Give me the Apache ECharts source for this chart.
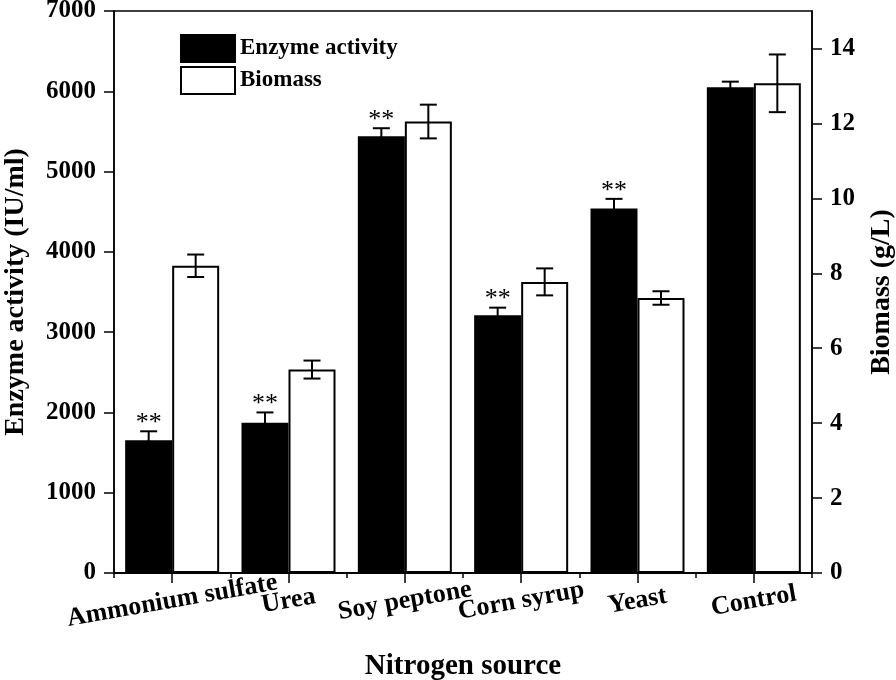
<!DOCTYPE html>
<html>
<head>
<meta charset="utf-8">
<script src="https://cdn.jsdelivr.net/npm/echarts@6/dist/echarts.min.js"></script>
<style>
html,body{margin:0;padding:0;background:#fff;}
#chart{width:896px;height:680px;}
</style>
</head>
<body>
<div id="chart"></div>
<script>
const categories = ['Ammonium sulfate', 'Urea', 'Soy peptone', 'Corn syrup', 'Yeast', 'Control'];
const enzymeActivity = [1655, 1870, 5440, 3210, 4540, 6050];
const enzymeError = [110, 130, 100, 95, 120, 70];
const biomass = [8.2, 5.43, 12.05, 7.77, 7.34, 13.07];
const biomassError = [0.3, 0.24, 0.45, 0.36, 0.18, 0.77];
const significance = ['**', '**', '**', '**', '**', ''];
const leftTicks = [0, 1000, 2000, 3000, 4000, 5000, 6000, 7000];
const rightTicks = [0, 2, 4, 6, 8, 10, 12, 14];

const FONT = "'Liberation Serif', 'Times New Roman', serif";
const chart = echarts.init(document.getElementById('chart'));

function errRender(sign, sigLabels) {
  return function (params, api) {
    const x = api.value(0), v = api.value(1), e = api.value(2);
    const c = api.coord([x, v]);
    const band = api.size([1, 0])[0];
    const cx = c[0] + sign * band * 0.202;
    const top = api.coord([x, v + e])[1];
    const bot = api.coord([x, v - e])[1];
    const cap = 8.5;
    const st = { stroke: '#000', lineWidth: 2 };
    const children = [
      { type: 'line', shape: { x1: cx, y1: top, x2: cx, y2: bot }, style: st },
      { type: 'line', shape: { x1: cx - cap, y1: top, x2: cx + cap, y2: top }, style: st },
      { type: 'line', shape: { x1: cx - cap, y1: bot, x2: cx + cap, y2: bot }, style: st }
    ];
    if (sigLabels && sigLabels[params.dataIndex]) {
      children.push({
        type: 'text',
        style: {
          text: sigLabels[params.dataIndex], x: cx, y: top + 5,
          align: 'center', verticalAlign: 'bottom',
          font: '26px ' + FONT, fill: '#000'
        }
      });
    }
    return { type: 'group', children: children };
  };
}

const tickStyle = { color: '#000', width: 1.5 };

const option = {
  backgroundColor: '#fff',
  animation: false,
  textStyle: { fontFamily: FONT },
  grid: { left: 114, right: 84, top: 11, bottom: 107, outerBoundsMode: 'none', containLabel: false,
    show: true, borderColor: '#000', borderWidth: 1.5, backgroundColor: 'transparent' },
  legend: {
    orient: 'vertical', left: 175, top: 29,
    itemWidth: 54, itemHeight: 27, itemGap: 3,
    icon: 'rect',
    textStyle: { fontFamily: FONT, fontWeight: 'bold', fontSize: 23, color: '#000' },
    data: ['Enzyme activity', 'Biomass']
  },
  xAxis: [
    {
      type: 'category', data: categories,
      name: 'Nitrogen source', nameLocation: 'middle', nameGap: 79,
      nameTextStyle: { fontFamily: FONT, fontWeight: 'bold', fontSize: 29, color: '#000' },
      axisLine: { show: true, lineStyle: tickStyle },
      axisTick: { show: true, alignWithLabel: true, interval: 0, length: 10, lineStyle: tickStyle },
      axisLabel: { interval: 0, rotate: 10, align: 'center', verticalAlign: 'middle', margin: 28,
        fontFamily: FONT, fontWeight: 'bold', fontSize: 26, color: '#000' },
      splitLine: { show: false }
    },
    {
      type: 'category', data: categories, position: 'bottom',
      axisLine: { show: true, lineStyle: tickStyle },
      axisTick: { show: true, length: 5, interval: 0, lineStyle: tickStyle },
      axisLabel: { show: false },
      splitLine: { show: false }
    }
  ],
  yAxis: [
    {
      type: 'value', min: 0, max: 7000, interval: 1000, position: 'left',
      name: 'Enzyme activity (IU/ml)', nameLocation: 'middle', nameGap: 84, nameRotate: 90,
      nameTextStyle: { fontFamily: FONT, fontWeight: 'bold', fontSize: 28, color: '#000' },
      axisLine: { show: true, lineStyle: tickStyle },
      axisTick: { show: true, length: 10, customValues: leftTicks, lineStyle: tickStyle },
      axisLabel: { margin: 18, customValues: leftTicks, formatter: (v) => String(v),
        fontFamily: FONT, fontWeight: 'bold', fontSize: 25, color: '#000' },
      splitLine: { show: false }
    },
    {
      type: 'value', min: 0, max: 15, interval: 2, position: 'right',
      name: 'Biomass (g/L)', nameLocation: 'middle', nameGap: 56, nameRotate: 90,
      nameTextStyle: { fontFamily: FONT, fontWeight: 'bold', fontSize: 28, color: '#000' },
      axisLine: { show: true, lineStyle: tickStyle },
      axisTick: { show: true, length: 10, customValues: rightTicks, lineStyle: tickStyle },
      axisLabel: { margin: 18, customValues: rightTicks, formatter: (v) => String(v),
        fontFamily: FONT, fontWeight: 'bold', fontSize: 25, color: '#000' },
      splitLine: { show: false }
    }
  ],
  series: [
    {
      name: 'Enzyme activity', type: 'bar', xAxisIndex: 0, yAxisIndex: 0,
      data: enzymeActivity, barWidth: 47, barGap: '0%',
      itemStyle: { color: '#000', borderColor: '#000', borderWidth: 1.5 }
    },
    {
      name: 'Biomass', type: 'bar', xAxisIndex: 0, yAxisIndex: 1,
      data: biomass, barWidth: 47, barGap: '0%',
      itemStyle: { color: '#fff', borderColor: '#000', borderWidth: 2 }
    },
    {
      type: 'custom', xAxisIndex: 0, yAxisIndex: 0, z: 5,
      renderItem: errRender(-1, significance),
      data: enzymeActivity.map((v, i) => [i, v, enzymeError[i]]),
      encode: { x: 0, y: 1 }
    },
    {
      type: 'custom', xAxisIndex: 0, yAxisIndex: 1, z: 5,
      renderItem: errRender(1, null),
      data: biomass.map((v, i) => [i, v, biomassError[i]]),
      encode: { x: 0, y: 1 }
    }
  ]
};
chart.setOption(option);
</script>
</body>
</html>
